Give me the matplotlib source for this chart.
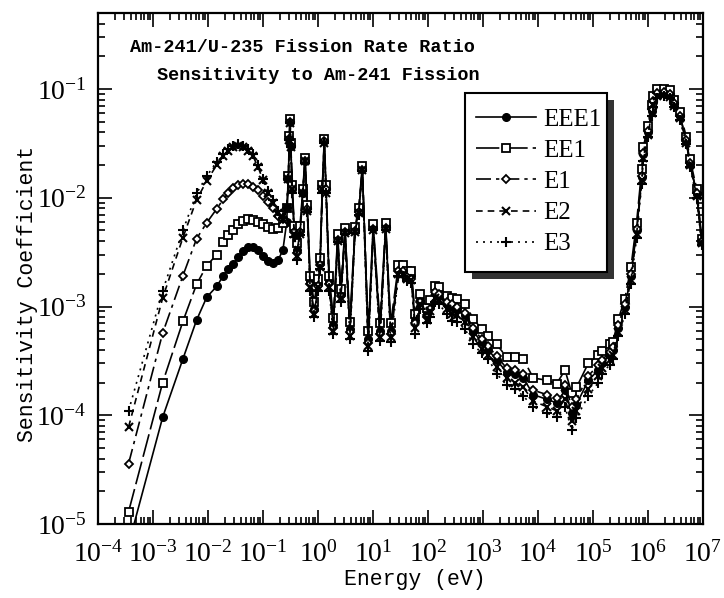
import numpy as np
import matplotlib
matplotlib.use("Agg")
import matplotlib.pyplot as plt
from matplotlib.ticker import LogLocator, NullFormatter, LogFormatterMathtext
from matplotlib.patches import Rectangle
from matplotlib.transforms import IdentityTransform

plt.rcParams['mathtext.fontset'] = 'stix'
plt.rcParams['font.family'] = ['Liberation Serif', 'DejaVu Serif']

# ---------------- data ----------------
energy = [
    3.6e-4, 1.5e-3, 3.5e-3, 6.2e-3, 9.5e-3, 0.0144, 0.019, 0.0234, 0.0288, 0.0356,
    0.0439, 0.054, 0.066, 0.082, 0.1, 0.125, 0.15, 0.19, 0.23, 0.27,
    0.29, 0.30, 0.31, 0.32, 0.34, 0.37, 0.41, 0.47, 0.53, 0.58,
    0.64, 0.72, 0.85, 1.0, 1.09, 1.2, 1.3, 1.4, 1.6, 1.9,
    2.28, 2.6, 3.1, 3.8, 4.7, 5.5, 6.4, 8.2, 10.1, 13.4,
    17, 21, 29, 35, 42, 50, 58, 72, 95, 109,
    134, 160, 219, 269, 331, 471, 667, 946, 1250, 1770,
    2700, 3800, 5400, 8200, 14400, 21800, 31000, 41000, 50000, 82000,
    1.25e5, 1.44e5, 2.0e5, 2.3e5, 2.9e5, 3.8e5, 4.9e5, 6.2e5, 7.7e5, 8.2e5,
    1.0e6, 1.17e6, 1.25e6, 1.45e6, 1.92e6, 2.55e6, 3.0e6, 3.8e6, 5.0e6, 5.8e6,
    7.7e6, 9.5e6,
]

eee1 = [
    6.5e-6, 9.6e-5, 3.3e-4, 7.5e-4, 1.22e-3, 1.53e-3, 1.92e-3, 2.22e-3, 2.47e-3, 2.83e-3,
    3.26e-3, 3.5e-3, 3.55e-3, 3.3e-3, 2.9e-3, 2.6e-3, 2.5e-3, 2.7e-3, 3.3e-3, 6.0e-3,
    0.015, 0.035, 0.050, 0.030, 0.012, 5.0e-3, 3.3e-3, 5.0e-3, 0.011, 0.022,
    8.0e-3, 1.7e-3, 9.5e-4, 1.6e-3, 2.5e-3, 0.012, 0.033, 0.012, 1.7e-3, 6.8e-4,
    4.2e-3, 1.3e-3, 4.9e-3, 6.2e-4, 5.0e-3, 7.5e-3, 0.0185, 5.0e-4, 5.3e-3, 6.0e-4,
    5.4e-3, 6.0e-4, 2.2e-3, 2.2e-3, 1.9e-3, 1.9e-3, 7.5e-4, 1.15e-3, 8.5e-4, 1.0e-3,
    1.3e-3, 1.25e-3, 1.05e-3, 1.0e-3, 9.5e-4, 8.3e-4, 5.9e-4, 4.7e-4, 4.0e-4, 3.2e-4,
    2.5e-4, 2.4e-4, 2.2e-4, 1.55e-4, 1.4e-4, 1.3e-4, 1.7e-4, 1.05e-4, 1.25e-4, 2.1e-4,
    2.6e-4, 3.0e-4, 3.6e-4, 4.0e-4, 6.4e-4, 1.0e-3, 1.9e-3, 5.0e-3, 0.0155, 0.025,
    0.040, 0.063, 0.076, 0.090, 0.092, 0.088, 0.073, 0.056, 0.033, 0.0205,
    0.0108, 0.0039,
]

ee1 = [
    1.3e-5, 2.0e-4, 7.3e-4, 1.6e-3, 2.38e-3, 3.0e-3, 3.9e-3, 4.5e-3, 5.1e-3, 5.7e-3,
    6.1e-3, 6.4e-3, 6.3e-3, 6.0e-3, 5.7e-3, 5.4e-3, 5.2e-3, 5.3e-3, 5.8e-3, 8.0e-3,
    0.016, 0.037, 0.053, 0.032, 0.013, 5.5e-3, 3.8e-3, 5.5e-3, 0.012, 0.023,
    8.6e-3, 1.9e-3, 1.1e-3, 1.8e-3, 2.8e-3, 0.013, 0.035, 0.013, 1.9e-3, 7.8e-4,
    4.6e-3, 1.45e-3, 5.3e-3, 7.2e-4, 5.4e-3, 8.0e-3, 0.0195, 6.0e-4, 5.7e-3, 7.0e-4,
    5.8e-3, 7.0e-4, 2.4e-3, 2.4e-3, 2.1e-3, 2.1e-3, 8.6e-4, 1.3e-3, 9.6e-4, 1.15e-3,
    1.55e-3, 1.5e-3, 1.26e-3, 1.2e-3, 1.18e-3, 1.06e-3, 7.7e-4, 6.2e-4, 5.4e-4, 4.5e-4,
    3.4e-4, 3.4e-4, 3.3e-4, 2.2e-4, 2.1e-4, 1.95e-4, 2.6e-4, 1.6e-4, 1.8e-4, 3.0e-4,
    3.6e-4, 3.9e-4, 4.5e-4, 4.7e-4, 7.7e-4, 1.18e-3, 2.3e-3, 5.9e-3, 0.0183, 0.029,
    0.046, 0.072, 0.086, 0.100, 0.100, 0.097, 0.080, 0.061, 0.036, 0.0226,
    0.012, 0.0042,
]

e1 = [
    3.6e-5, 5.7e-4, 1.92e-3, 4.2e-3, 5.9e-3, 7.9e-3, 9.7e-3, 0.0110, 0.0122, 0.0130,
    0.0135, 0.0134, 0.0126, 0.0117, 0.0104, 9.2e-3, 8.0e-3, 6.8e-3, 6.4e-3, 8.0e-3,
    0.015, 0.035, 0.050, 0.030, 0.012, 4.8e-3, 3.1e-3, 4.8e-3, 0.011, 0.022,
    7.8e-3, 1.6e-3, 9.0e-4, 1.55e-3, 2.4e-3, 0.012, 0.033, 0.012, 1.6e-3, 6.4e-4,
    4.1e-3, 1.25e-3, 4.8e-3, 5.8e-4, 4.9e-3, 7.4e-3, 0.018, 4.6e-4, 5.2e-3, 5.6e-4,
    5.3e-3, 5.6e-4, 2.1e-3, 2.1e-3, 1.85e-3, 1.8e-3, 7.0e-4, 1.1e-3, 8.0e-4, 9.5e-4,
    1.35e-3, 1.3e-3, 1.1e-3, 1.05e-3, 1.0e-3, 8.8e-4, 6.3e-4, 5.0e-4, 4.3e-4, 3.5e-4,
    2.7e-4, 2.6e-4, 2.4e-4, 1.7e-4, 1.55e-4, 1.45e-4, 1.9e-4, 1.2e-4, 1.4e-4, 2.3e-4,
    2.9e-4, 3.2e-4, 3.8e-4, 4.2e-4, 6.8e-4, 1.05e-3, 2.0e-3, 5.2e-3, 0.016, 0.026,
    0.041, 0.065, 0.078, 0.092, 0.094, 0.090, 0.075, 0.057, 0.034, 0.021,
    0.011, 0.0040,
]

e2 = [
    7.8e-5, 1.2e-3, 4.3e-3, 9.6e-3, 0.0143, 0.020, 0.024, 0.027, 0.029, 0.030,
    0.0295, 0.027, 0.024, 0.019, 0.0145, 0.011, 9.0e-3, 7.2e-3, 6.3e-3, 8.0e-3,
    0.015, 0.034, 0.049, 0.029, 0.012, 4.6e-3, 2.9e-3, 4.6e-3, 0.011, 0.022,
    7.6e-3, 1.5e-3, 8.5e-4, 1.5e-3, 2.3e-3, 0.012, 0.032, 0.011, 1.5e-3, 6.0e-4,
    4.0e-3, 1.2e-3, 4.7e-3, 5.4e-4, 4.8e-3, 7.2e-3, 0.018, 4.3e-4, 5.1e-3, 5.2e-4,
    5.2e-3, 5.2e-4, 2.0e-3, 2.0e-3, 1.8e-3, 1.75e-3, 6.3e-4, 1.05e-3, 7.5e-4, 9.0e-4,
    1.2e-3, 1.15e-3, 9.5e-4, 8.5e-4, 8.3e-4, 7.2e-4, 5.2e-4, 4.1e-4, 3.6e-4, 2.8e-4,
    2.2e-4, 2.0e-4, 1.8e-4, 1.35e-4, 1.2e-4, 1.1e-4, 1.4e-4, 8.8e-5, 1.1e-4, 1.75e-4,
    2.3e-4, 2.7e-4, 3.2e-4, 3.6e-4, 5.8e-4, 9.2e-4, 1.75e-3, 4.6e-3, 0.0145, 0.023,
    0.038, 0.060, 0.072, 0.086, 0.089, 0.085, 0.070, 0.054, 0.032, 0.020,
    0.0104, 0.0038,
]

e3 = [
    1.1e-4, 1.4e-3, 5.0e-3, 0.011, 0.0158, 0.0215, 0.025, 0.028, 0.030, 0.031,
    0.030, 0.028, 0.025, 0.020, 0.015, 0.0115, 9.5e-3, 7.5e-3, 6.5e-3, 8.0e-3,
    0.015, 0.034, 0.049, 0.029, 0.011, 4.4e-3, 2.7e-3, 4.5e-3, 0.011, 0.021,
    7.4e-3, 1.4e-3, 8.0e-4, 1.4e-3, 2.2e-3, 0.011, 0.032, 0.011, 1.4e-3, 5.6e-4,
    3.9e-3, 1.1e-3, 4.6e-3, 5.0e-4, 4.7e-3, 7.0e-3, 0.0175, 3.9e-4, 5.0e-3, 4.8e-4,
    5.1e-3, 4.7e-4, 1.9e-3, 1.9e-3, 1.7e-3, 1.65e-3, 5.6e-4, 9.5e-4, 7.0e-4, 8.0e-4,
    1.1e-3, 1.05e-3, 8.5e-4, 7.4e-4, 7.2e-4, 6.2e-4, 4.5e-4, 3.7e-4, 3.3e-4, 2.4e-4,
    1.9e-4, 1.75e-4, 1.5e-4, 1.2e-4, 1.05e-4, 9.6e-5, 1.2e-4, 7.3e-5, 9.5e-5, 1.5e-4,
    2.0e-4, 2.4e-4, 2.9e-4, 3.3e-4, 5.3e-4, 8.5e-4, 1.6e-3, 4.3e-3, 0.0135, 0.022,
    0.036, 0.057, 0.069, 0.083, 0.086, 0.082, 0.068, 0.052, 0.031, 0.019,
    0.010, 0.0037,
]

labels = ["EEE1", "EE1", "E1", "E2", "E3"]
title_lines = ["Am-241/U-235 Fission Rate Ratio", "Sensitivity to Am-241 Fission"]

# ---------------- figure ----------------
W, H = 724, 598
fig = plt.figure(figsize=(W / 100, H / 100), dpi=100)
ax = fig.add_axes([98 / W, (H - 524) / H, (703 - 98) / W, (524 - 13) / H])

styles = [
    dict(ls='-', marker='o', ms=5.5, mfc='black', mec='black', mew=1.0),
    dict(ls=(0, (14, 3)), marker='s', ms=6, mfc='white', mec='black', mew=1.3),
    dict(ls=(0, (9, 3, 2, 3)), marker='D', ms=4, mfc='white', mec='black', mew=1.3),
    dict(ls=(0, (4, 3)), marker='x', ms=6, mec='black', mew=1.5),
    dict(ls=(0, (1.2, 3)), marker='+', ms=7, mec='black', mew=1.5),
]
series = [eee1, ee1, e1, e2, e3]
handles = []
for vals, lab, st in zip(series, labels, styles):
    h, = ax.plot(energy, vals, color='black', lw=1.2, label=lab, **st)
    handles.append(h)

ax.set_xscale('log')
ax.set_yscale('log')
ax.set_xlim(1e-4, 1e7)
ax.set_ylim(1e-5, 0.5)

ax.xaxis.set_major_locator(LogLocator(base=10, numticks=30))
ax.xaxis.set_minor_locator(LogLocator(base=10, subs=np.arange(2, 10), numticks=200))
ax.yaxis.set_major_locator(LogLocator(base=10, numticks=30))
ax.yaxis.set_minor_locator(LogLocator(base=10, subs=np.arange(2, 10), numticks=200))
ax.xaxis.set_minor_formatter(NullFormatter())
ax.yaxis.set_minor_formatter(NullFormatter())
ax.xaxis.set_major_formatter(LogFormatterMathtext())
ax.yaxis.set_major_formatter(LogFormatterMathtext())

ax.tick_params(which='both', direction='in', top=True, right=True, width=1.2, colors='black')
ax.tick_params(which='major', length=10, labelsize=20)
ax.tick_params(axis='x', which='major', pad=12)
ax.tick_params(axis='y', which='major', pad=8)
ax.tick_params(which='minor', length=5)
for sp in ax.spines.values():
    sp.set_linewidth(1.6)

ax.set_xlabel("Energy (eV)", family='Liberation Mono', fontsize=15.5)
ax.xaxis.set_label_coords((415 - 98) / (703 - 98), -(580 - 524) / (524 - 13))
ax.xaxis.label.set_va('center')
ax.set_ylabel("Sensitivity Coefficient", family='Liberation Mono', fontsize=15.5)
ax.yaxis.set_label_coords(-(98 - 28) / (703 - 98), (524 - 294) / (524 - 13))
ax.yaxis.label.set_va('center')

fig.text(130 / W, 1 - 47 / H, title_lines[0], family='Liberation Mono', fontweight='bold',
         fontsize=13.3, ha='left', va='center')
fig.text(157 / W, 1 - 76 / H, title_lines[1], family='Liberation Mono', fontweight='bold',
         fontsize=13.3, ha='left', va='center')

# legend box (pixel coordinates of the reference), with a dark drop shadow
bx0, bx1, by0, by1 = 465, 607, 93, 272
off = 7
shadow = Rectangle((bx0 + off, H - by1 - off), bx1 - bx0, by1 - by0,
                   facecolor='#333333', edgecolor='none', zorder=8)
frame = Rectangle((bx0, H - by1), bx1 - bx0, by1 - by0,
                  facecolor='white', edgecolor='black', lw=1.5, zorder=9)
for p in (shadow, frame):
    p.set_transform(IdentityTransform())
    p.set_clip_on(False)
    ax.add_artist(p)

leg = ax.legend(handles=handles, loc='upper left',
                bbox_to_anchor=((461 - 98) / (703 - 98), (524 - 93) / (524 - 13)),
                fontsize=18, frameon=False, handlelength=2.4, handletextpad=0.3,
                labelspacing=0.35, borderpad=0.6, borderaxespad=0, numpoints=1)
leg.set_zorder(10)

fig.savefig("out.png", dpi=100)
